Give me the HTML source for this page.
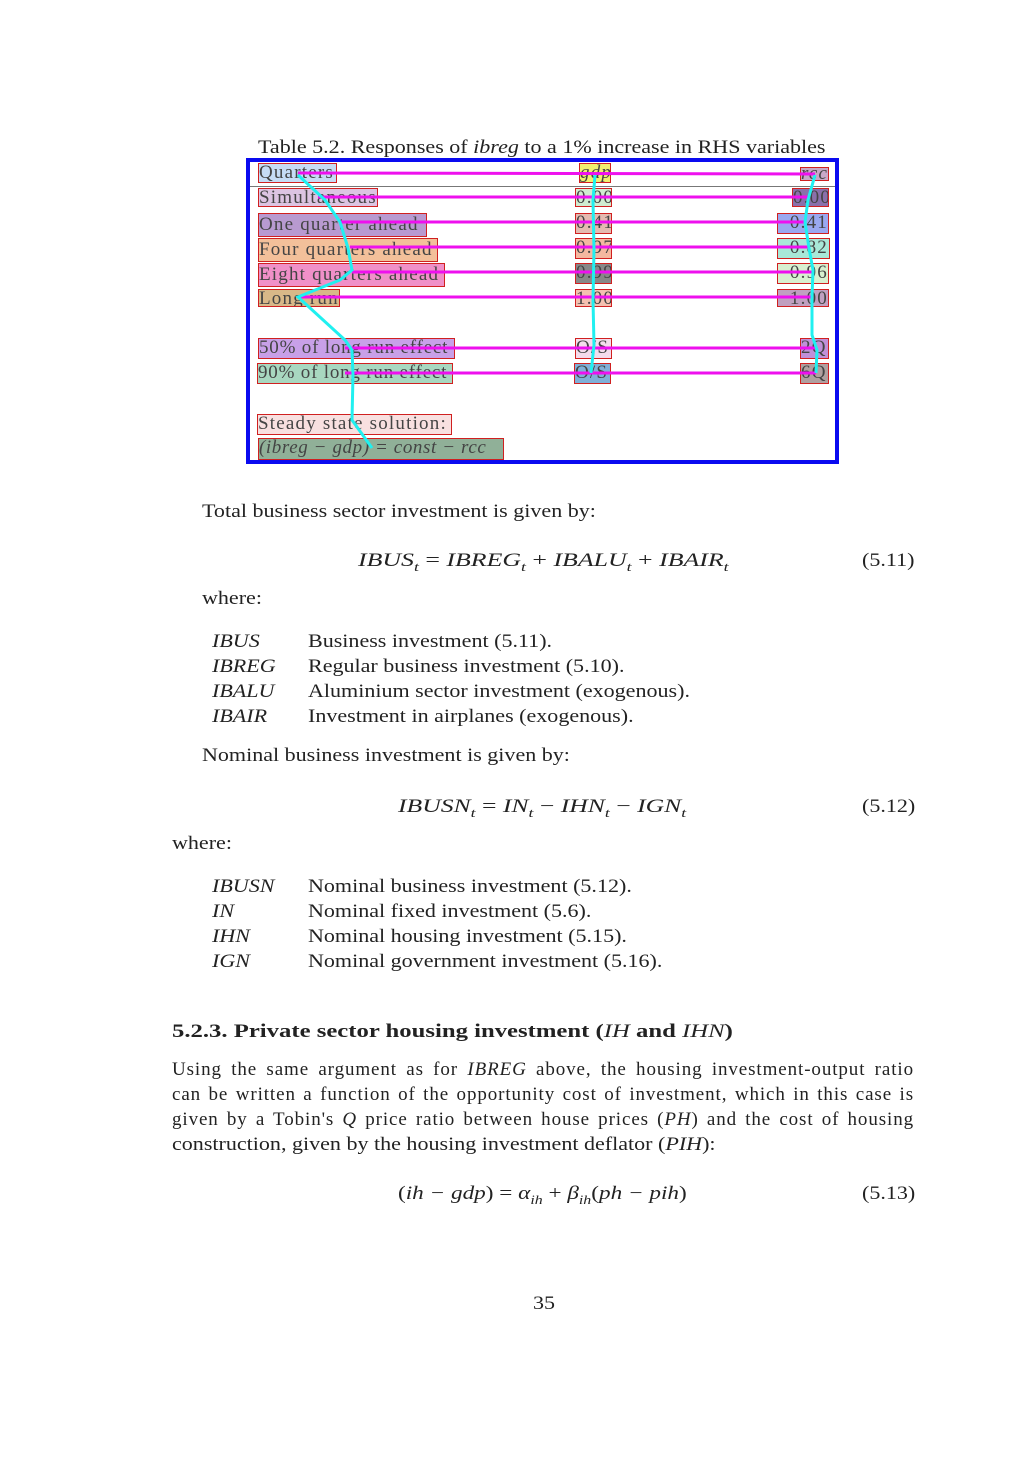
<!DOCTYPE html>
<html><head><meta charset="utf-8"><style>
body{margin:0;width:1032px;height:1459px;background:#fff;position:relative;overflow:hidden;font-family:"Liberation Serif",serif;color:#222;font-size:19px}
.t{position:absolute;line-height:19px;white-space:nowrap;transform:scaleX(1.16);transform-origin:0 0}
.i{font-style:italic}
.b{position:absolute;border:1px solid #d02020;box-sizing:border-box;line-height:18px;font-size:19px;color:#444;white-space:nowrap;overflow:hidden;letter-spacing:1.2px}
.j{position:absolute;width:742px;left:172px;line-height:19px;text-align:justify;text-align-last:justify;letter-spacing:0.9px}
</style></head><body>
<div class="t" style="left:258px;top:138px;transform:scaleX(1.16)">Table 5.2. Responses of <span class="i">ibreg</span> to a 1% increase in RHS variables</div>
<div style="position:absolute;left:246px;top:158px;width:585px;height:298px;border:4px solid #0a0af0"></div>
<div style="position:absolute;left:250px;top:186px;width:585px;height:1px;background:#777"></div>

<div class="b" style="left:258px;top:163px;width:79px;height:20px;background:#c6dcf5">Quarters</div>
<div class="b i" style="left:579px;top:163px;width:32px;height:20px;background:#f0f070">gdp</div>
<div class="b i" style="left:800px;top:167px;width:29px;height:14px;background:#c8a8c8;line-height:12px">rcc</div>

<div class="b" style="left:258px;top:188px;width:120px;height:19px;background:#dcc4e2">Simultaneous</div>
<div class="b" style="left:575px;top:188px;width:37px;height:19px;background:#d0ecd0">0.00</div>
<div class="b" style="left:792px;top:188px;width:37px;height:19px;background:#8a70aa">0.00</div>

<div class="b" style="left:258px;top:213px;width:169px;height:24px;background:#b89ad0;line-height:22px">One quarter ahead</div>
<div class="b" style="left:575px;top:213px;width:37px;height:21px;background:#e4bab0">0.41</div>
<div class="b" style="left:777px;top:213px;width:52px;height:21px;background:#9aa8f0">−0.41</div>

<div class="b" style="left:258px;top:238px;width:180px;height:24px;background:#f3c09a;line-height:22px">Four quarters ahead</div>
<div class="b" style="left:575px;top:238px;width:37px;height:21px;background:#f4b8a0">0.97</div>
<div class="b" style="left:777px;top:238px;width:53px;height:21px;background:#a8e8d8">−0.82</div>

<div class="b" style="left:258px;top:263px;width:187px;height:24px;background:#f090c8;line-height:22px">Eight quarters ahead</div>
<div class="b" style="left:575px;top:263px;width:37px;height:21px;background:#888">0.99</div>
<div class="b" style="left:777px;top:263px;width:52px;height:21px;background:#d8f0d0">−0.96</div>

<div class="b" style="left:258px;top:289px;width:82px;height:18px;background:#d8b888">Long run</div>
<div class="b" style="left:575px;top:289px;width:37px;height:18px;background:#f4c0b0">1.00</div>
<div class="b" style="left:777px;top:289px;width:52px;height:18px;background:#c0a0c0">−1.00</div>

<div class="b" style="left:258px;top:338px;width:197px;height:21px;background:#c8a0e8;letter-spacing:0.8px">50% of long run effect</div>
<div class="b" style="left:575px;top:338px;width:37px;height:21px;background:#f4dcec">O/S</div>
<div class="b" style="left:800px;top:338px;width:29px;height:21px;background:#c090d8">2Q</div>

<div class="b" style="left:257px;top:363px;width:196px;height:21px;background:#a8d8c0;letter-spacing:0.8px">90% of long run effect</div>
<div class="b" style="left:574px;top:363px;width:37px;height:21px;background:#80b0d8">O/S</div>
<div class="b" style="left:800px;top:363px;width:29px;height:21px;background:#b0a0a0">6Q</div>

<div class="b" style="left:257px;top:414px;width:195px;height:21px;background:#f8e0e0">Steady state solution:</div>
<div class="b i" style="left:258px;top:438px;width:246px;height:22px;background:#90b098;letter-spacing:0.6px">(ibreg − gdp) = const − rcc</div>

<svg width="1032" height="1459" style="position:absolute;left:0;top:0;pointer-events:none">
<g stroke="#ee10ee" stroke-width="3" fill="none">
<line x1="298" y1="173" x2="815" y2="174"/><line x1="318" y1="197" x2="808" y2="197"/>
<line x1="340" y1="222" x2="805" y2="222"/><line x1="350" y1="247" x2="809" y2="247"/>
<line x1="352" y1="272" x2="813" y2="272"/><line x1="298" y1="297" x2="812" y2="297"/>
<line x1="345" y1="348" x2="817" y2="348"/><line x1="345" y1="373" x2="816" y2="373"/>
</g>
<g stroke="#20f0f0" stroke-width="3" fill="none">
<polyline points="298,175 325,200 340,222 348,248 352,270 340,280 298,297 345,340 352,350 353,375 352,420 372,448"/>
<polyline points="595,175 593,200 594,250 593,300 594,345 591,373"/>
<polyline points="815,175 808,200 805,222 809,248 813,270 812,297 812,335 817,350 816,373"/>
</g>
</svg>

<div class="t" style="left:202px;top:502px">Total business sector investment is given by:</div>
<div class="t i" style="left:358px;top:551px;transform:scaleX(1.36)">IBUS<sub style="font-size:13px">t</sub> <span style="font-style:normal">=</span> IBREG<sub style="font-size:13px">t</sub> <span style="font-style:normal">+</span> IBALU<sub style="font-size:13px">t</sub> <span style="font-style:normal">+</span> IBAIR<sub style="font-size:13px">t</sub></div>
<div class="t" style="left:862px;top:551px">(5.11)</div>
<div class="t" style="left:202px;top:589px">where:</div>
<div class="t i" style="left:212px;top:632px">IBUS</div><div class="t" style="left:308px;top:632px">Business investment (5.11).</div>
<div class="t i" style="left:212px;top:657px">IBREG</div><div class="t" style="left:308px;top:657px">Regular business investment (5.10).</div>
<div class="t i" style="left:212px;top:682px">IBALU</div><div class="t" style="left:308px;top:682px">Aluminium sector investment (exogenous).</div>
<div class="t i" style="left:212px;top:707px">IBAIR</div><div class="t" style="left:308px;top:707px">Investment in airplanes (exogenous).</div>
<div class="t" style="left:202px;top:746px">Nominal business investment is given by:</div>
<div class="t i" style="left:398px;top:797px;transform:scaleX(1.35)">IBUSN<sub style="font-size:13px">t</sub> <span style="font-style:normal">=</span> IN<sub style="font-size:13px">t</sub> <span style="font-style:normal">−</span> IHN<sub style="font-size:13px">t</sub> <span style="font-style:normal">−</span> IGN<sub style="font-size:13px">t</sub></div>
<div class="t" style="left:862px;top:797px">(5.12)</div>
<div class="t" style="left:172px;top:834px">where:</div>
<div class="t i" style="left:212px;top:877px">IBUSN</div><div class="t" style="left:308px;top:877px">Nominal business investment (5.12).</div>
<div class="t i" style="left:212px;top:902px">IN</div><div class="t" style="left:308px;top:902px">Nominal fixed investment (5.6).</div>
<div class="t i" style="left:212px;top:927px">IHN</div><div class="t" style="left:308px;top:927px">Nominal housing investment (5.15).</div>
<div class="t i" style="left:212px;top:952px">IGN</div><div class="t" style="left:308px;top:952px">Nominal government investment (5.16).</div>

<div class="t" style="left:172px;top:1022px;font-weight:bold;transform:scaleX(1.3)">5.2.3. Private sector housing investment (<span class="i" style="font-weight:normal">IH</span> and <span class="i" style="font-weight:normal">IHN</span>)</div>
<div class="j" style="top:1060px">Using the same argument as for <span class="i">IBREG</span> above, the housing investment-output ratio</div>
<div class="j" style="top:1085px">can be written a function of the opportunity cost of investment, which in this case is</div>
<div class="j" style="top:1110px">given by a Tobin's <span class="i">Q</span> price ratio between house prices (<span class="i">PH</span>) and the cost of housing</div>
<div class="t" style="left:172px;top:1135px">construction, given by the housing investment deflator (<span class="i">PIH</span>):</div>
<div class="t i" style="left:398px;top:1184px;transform:scaleX(1.22)"><span style="font-style:normal">(</span>ih − gdp<span style="font-style:normal">) = </span>α<sub style="font-size:13px">ih</sub> <span style="font-style:normal">+</span> β<sub style="font-size:13px">ih</sub><span style="font-style:normal">(</span>ph − pih<span style="font-style:normal">)</span></div>
<div class="t" style="left:862px;top:1184px">(5.13)</div>
<div class="t" style="left:533px;top:1294px">35</div>
</body></html>
